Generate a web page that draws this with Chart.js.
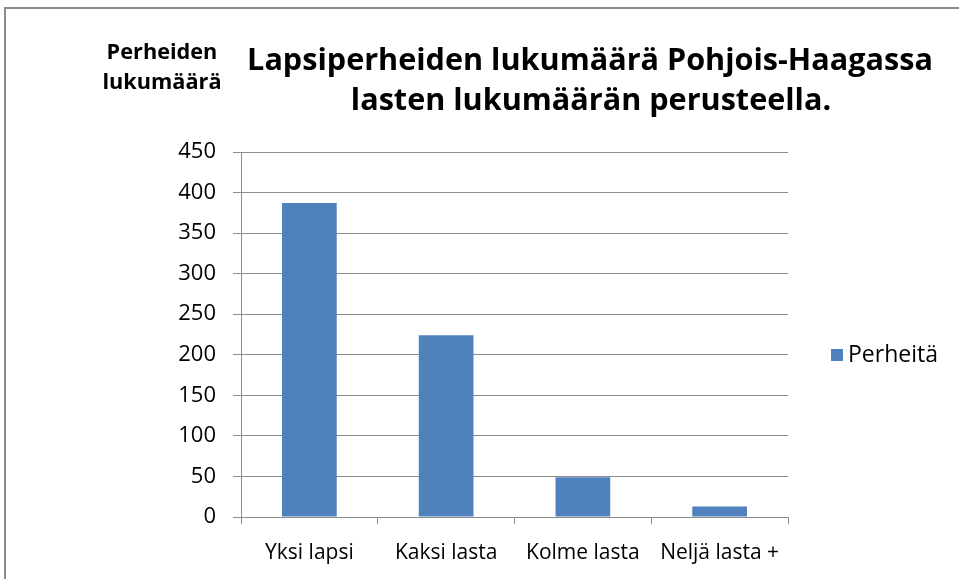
<!DOCTYPE html>
<html><head><meta charset="utf-8">
<style>
html,body{margin:0;padding:0;background:#fff;overflow:hidden}
#wrap{position:relative;width:959px;height:579px}
#frame{position:absolute;left:4px;top:7px;width:1000px;height:700px;border:2px solid #8a8a8a;box-sizing:border-box}
canvas{position:absolute;left:0;top:0}
</style>
<script src="https://cdn.jsdelivr.net/npm/chart.js@4"></script>
</head><body>
<div id="wrap"><div id="frame"></div><canvas id="c" width="959" height="579"></canvas></div>
<script>
const categories = ["Yksi lapsi", "Kaksi lasta", "Kolme lasta", "Neljä lasta +"];
const perheita = [387, 224, 49, 13];
const seriesName = "Perheitä";
const titleLines = ["Lapsiperheiden lukumäärä Pohjois-Haagassa", "lasten lukumäärän perusteella."];
const yTitleLines = ["Perheiden", "lukumäärä"];
const FONT = "'Open Sans', sans-serif";

function fitSize(ctx, text, weight, target) {
  ctx.font = weight + " 100px " + FONT;
  return 100 * target / ctx.measureText(text).width;
}

const textPlugin = {
  id: 'texts',
  afterDraw(chart) {
    const ctx = chart.ctx;
    ctx.save();
    ctx.fillStyle = '#000';
    ctx.textAlign = 'center';
    ctx.textBaseline = 'alphabetic';
    const ts = fitSize(ctx, titleLines[0], 'bold', 686);
    ctx.font = "bold " + ts.toFixed(1) + "px " + FONT;
    ctx.fillText(titleLines[0], 590, 70);
    ctx.fillText(titleLines[1], 591, 110);
    const ys = fitSize(ctx, yTitleLines[0], 'bold', 111);
    ctx.font = "bold " + ys.toFixed(1) + "px " + FONT;
    ctx.fillText(yTitleLines[0], 162, 59);
    ctx.fillText(yTitleLines[1], 162, 89);
    // legend
    const ds = chart.data.datasets[0];
    ctx.fillStyle = ds.backgroundColor;
    ctx.fillRect(831, 349, 12, 12);
    ctx.fillStyle = '#000';
    ctx.textAlign = 'left';
    ctx.textBaseline = 'middle';
    ctx.font = "23px " + FONT;
    ctx.fillText(ds.label, 848, 355);
    ctx.restore();
  }
};

new Chart(document.getElementById('c'), {
  type: 'bar',
  data: {
    labels: categories,
    datasets: [{ label: seriesName, data: perheita, backgroundColor: '#4f81bd',
      barPercentage: 0.4, categoryPercentage: 1.0 }]
  },
  options: {
    responsive: false, animation: false,
    layout: { padding: { left: 0, top: 152, right: 171, bottom: 0 } },
    plugins: { legend: { display: false }, title: { display: false }, tooltip: { enabled: false } },
    scales: {
      y: {
        min: 0, max: 450,
        ticks: { stepSize: 50, color: '#000', padding: 17, font: { family: FONT, size: 22 } },
        grid: { color: '#8c8c8c', lineWidth: 1, tickLength: 8 },
        border: { color: '#8c8c8c', width: 1 },
        afterFit(s) { s.width = 241; }
      },
      x: {
        ticks: { color: '#000', padding: 16, font: { family: FONT, size: 21 } },
        grid: { offset: true, drawOnChartArea: false, color: '#8c8c8c', tickLength: 7 },
        border: { color: '#8c8c8c', width: 1 },
        afterFit(s) { s.height = 62; }
      }
    }
  },
  plugins: [textPlugin]
});
</script>
</body></html>
